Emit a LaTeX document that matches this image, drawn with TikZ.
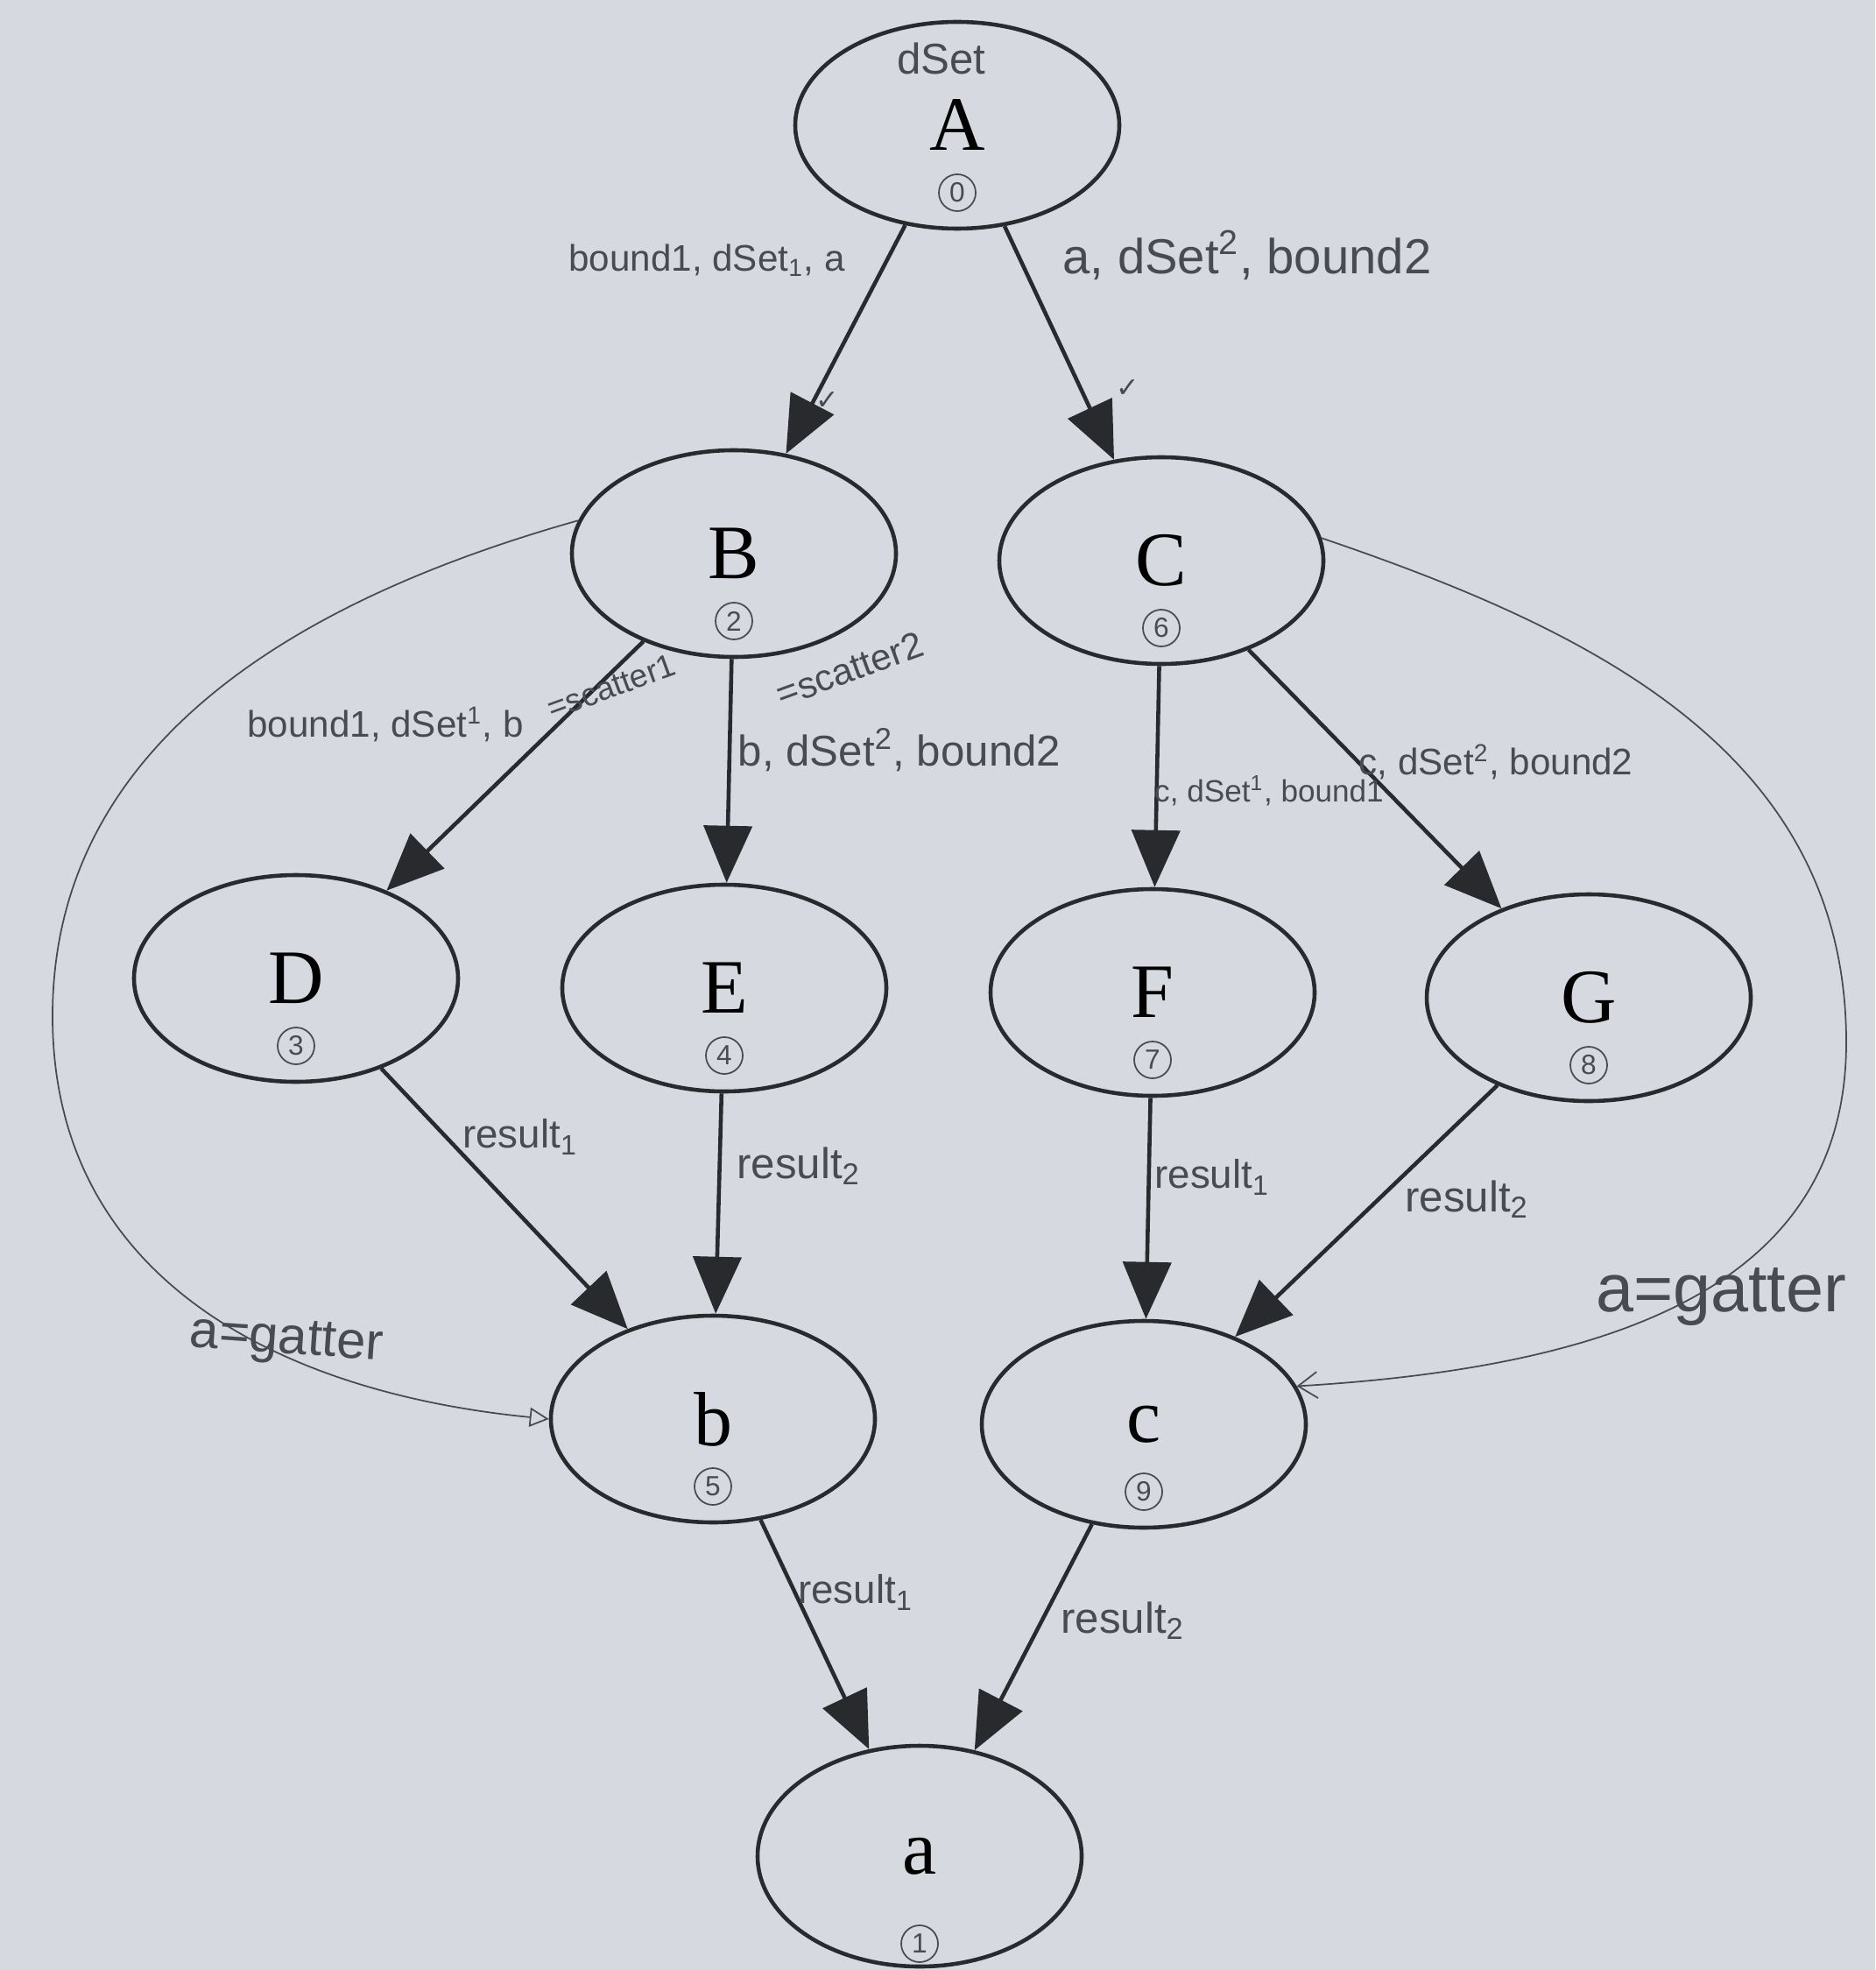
\documentclass[tikz,border=0pt]{standalone}
\usepackage{fontspec}
\setmainfont{Liberation Serif}
\newfontfamily\handfont{Liberation Sans}
\newfontfamily\symfont{DejaVu Sans}
\usetikzlibrary{arrows.meta, shapes.geometric, calc}

\definecolor{paper}{RGB}{214,218,224}
\definecolor{ink}{RGB}{40,42,46}
\definecolor{pencil}{RGB}{72,75,80}

\newcommand{\handsz}[1]{\handfont\fontsize{#1}{#1}\selectfont}

\tikzset{
  task/.style={draw=ink, ellipse, line width=1.3pt, minimum width=3.7cm,
    minimum height=2.36cm, inner sep=0pt, font=\fontsize{25}{28}\selectfont},
  flow/.style={draw=ink, line width=1.3pt, -{Triangle[length=6.5mm,width=5.5mm]}},
  note/.style={text=pencil, font=\handsz{12}, inner sep=1pt},
  stepnum/.style={draw=pencil, circle, line width=0.5pt, minimum size=4.2mm,
    inner sep=0pt, text=pencil, font=\handsz{9}},
  loopback/.style={draw=pencil, line width=0.5pt},
}

\begin{document}
\begin{tikzpicture}
    \fill[paper] (0,0) rectangle (21.41,-22.49);
    \useasboundingbox (0,0) rectangle (21.41,-22.49);

    % tasks
    \node[task] (A) at (10.93,-1.43) {A};
    \node[task] (B) at (8.38,-6.32) {B};
    \node[task] (C) at (13.26,-6.40) {C};
    \node[task] (D) at (3.38,-11.17) {D};
    \node[task] (E) at (8.27,-11.28) {E};
    \node[task] (F) at (13.16,-11.33) {F};
    \node[task] (G) at (18.14,-11.39) {G};
    \node[task] (b) at (8.14,-16.20) {b};
    \node[task] (c) at (13.06,-16.26) {c};
    \node[task, minimum height=2.52cm] (a) at (10.50,-21.19) {a};

    % step numbers
    \node[stepnum] (nA) at ($(A)+(0,-0.77)$) {0};
    \node[stepnum] (nB) at ($(B)+(0,-0.77)$) {2};
    \node[stepnum] (nC) at ($(C)+(0,-0.77)$) {6};
    \node[stepnum] (nD) at ($(D)+(0,-0.77)$) {3};
    \node[stepnum] (nE) at ($(E)+(0,-0.77)$) {4};
    \node[stepnum] (nF) at ($(F)+(0,-0.77)$) {7};
    \node[stepnum] (nG) at ($(G)+(0,-0.77)$) {8};
    \node[stepnum] (nb) at ($(b)+(0,-0.77)$) {5};
    \node[stepnum] (nc) at ($(c)+(0,-0.77)$) {9};
    \node[stepnum] (na) at ($(a)+(0,-1.0)$) {1};
    \node[note, font=\handsz{14}] (dset) at ($(A)+(-0.18,0.76)$) {dSet};

    % edges
    \draw[flow] (A) -- (B);
    \draw[flow] (A) -- (C);
    \draw[flow] (B) -- (D);
    \draw[flow] (B) -- (E);
    \draw[flow] (C) -- (F);
    \draw[flow] (C) -- (G);
    \draw[flow] (D) -- (b);
    \draw[flow] (E) -- (b);
    \draw[flow] (F) -- (c);
    \draw[flow] (G) -- (c);
    \draw[flow] (b) -- (a);
    \draw[flow] (c) -- (a);

    % gather links
    \draw[loopback, -{Triangle[open,length=2.2mm,width=2.2mm]}] (B.168)
        .. controls (3.2,-6.9) and (0.6,-8.6) .. (0.60,-11.6)
        .. controls (0.6,-14.6) and (3.2,-15.9) .. (b.west);
    \draw[loopback, -{Straight Barb[length=2.2mm,width=3mm]}] (C.8)
        .. controls (18.2,-7.2) and (21.08,-8.6) .. (21.08,-11.9)
        .. controls (21.08,-14.6) and (18.6,-15.6) .. (c.14);

    % labels
    \node[note] (lAB) at (8.07,-2.97) {bound1, dSet\textsubscript{1}, a};
    \node[note, font=\handsz{16}] (lAC) at (14.24,-2.91) {a, dSet\textsuperscript{2}, bound2};
    \node[note] (okB) at (9.45,-4.58) {\symfont\fontsize{9}{9}\selectfont ✓};
    \node[note] (okC) at (12.88,-4.44) {\symfont\fontsize{9}{9}\selectfont ✓};
    \node[note] (lBD) at (4.40,-8.27) {bound1, dSet\textsuperscript{1}, b};
    \node[note, rotate=20, font=\handsz{10.5}] (sBD) at (6.98,-7.84) {=scatter1};
    \node[note, font=\handsz{14}] (lBE) at (10.27,-8.56) {b, dSet\textsuperscript{2}, bound2};
    \node[note, rotate=20, font=\handsz{12}] (sBE) at (9.70,-7.64) {=scatter2};
    \node[note, font=\handsz{10}] (lCF) at (14.49,-9.03) {c, dSet\textsuperscript{1}, bound1};
    \node[note] (lCG) at (17.08,-8.70) {c, dSet\textsuperscript{2}, bound2};
    \node[note, font=\handsz{13}] (lDb) at (5.94,-12.98) {result\textsubscript{1}};
    \node[note, font=\handsz{14}] (lEb) at (9.12,-13.31) {result\textsubscript{2}};
    \node[note, font=\handsz{13}] (lFc) at (13.84,-13.44) {result\textsubscript{1}};
    \node[note, font=\handsz{14}] (lGc) at (16.75,-13.69) {result\textsubscript{2}};
    \node[note, font=\handsz{13}] (lba) at (9.77,-18.18) {result\textsubscript{1}};
    \node[note, font=\handsz{14}] (lca) at (12.82,-18.50) {result\textsubscript{2}};
    \node[note, rotate=-4, font=\handsz{17}] (gL) at (3.27,-15.32) {a=gatter};
    \node[note, font=\handsz{22}] (gR) at (19.65,-14.81) {a=gatter};
\end{tikzpicture}
\end{document}
